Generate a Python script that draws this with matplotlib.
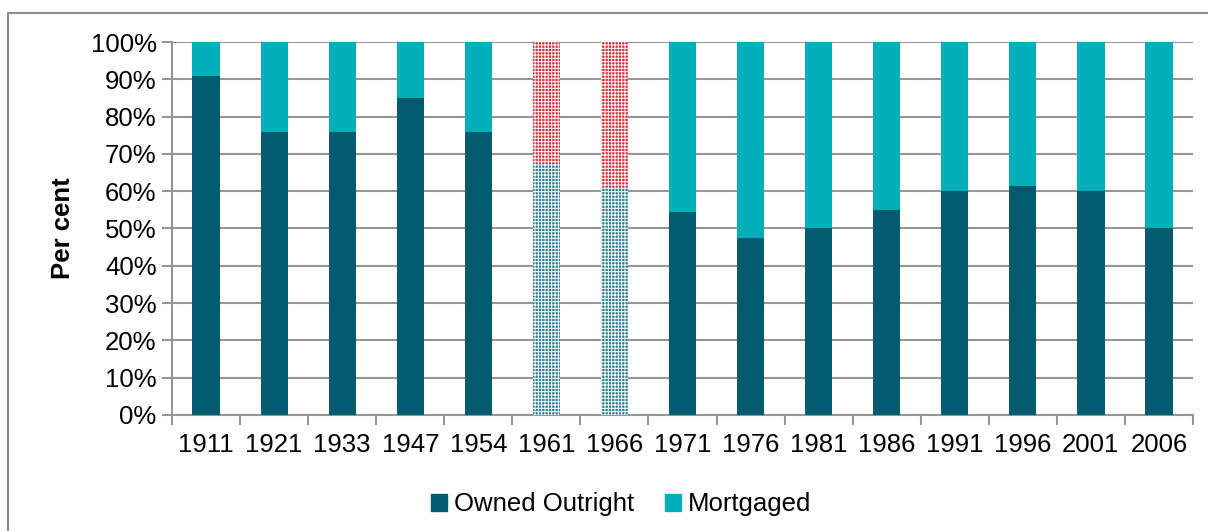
import matplotlib.pyplot as plt
from matplotlib.patches import Rectangle, Patch

plt.rcParams['font.family'] = ['Liberation Sans', 'DejaVu Sans']
plt.rcParams['hatch.linewidth'] = 0.7

years = ['1911', '1921', '1933', '1947', '1954', '1961', '1966', '1971',
         '1976', '1981', '1986', '1991', '1996', '2001', '2006']
owned = [91, 76, 76, 85, 76, 67.5, 61, 54.5, 47.5, 50, 55, 60, 61.5, 60, 50]
mortgaged = [100 - v for v in owned]
estimated = ['1961', '1966']   # shown hatched

dark = '#005b6f'
light = '#00b0b9'
grid_c = '#969696'
fs = 18.5

fig = plt.figure(figsize=(12.08, 5.31), dpi=100)
ax = fig.add_axes([0.1424, 0.2185, 0.8452, 0.7024])

x = list(range(len(years)))
for i, yr in enumerate(years):
    if yr in estimated:
        ax.bar(i, owned[i], width=0.4, color='#2f7f92', edgecolor='white',
               linewidth=0, hatch='+++++', zorder=3)
        ax.bar(i, mortgaged[i], bottom=owned[i], width=0.4, color='#dc2f3a',
               edgecolor='white', linewidth=0, hatch='+++++', zorder=3)
    else:
        ax.bar(i, owned[i], width=0.4, color=dark, zorder=3)
        ax.bar(i, mortgaged[i], bottom=owned[i], width=0.4, color=light, zorder=3)

ax.set_xlim(-0.5, len(years) - 0.5)
ax.set_ylim(0, 100)
ax.set_yticks(range(0, 101, 10))
ax.set_yticklabels([f'{v}%' for v in range(0, 101, 10)], fontsize=fs)
ax.set_xticks(x)
ax.set_xticklabels(years, fontsize=fs)
ax.set_xticks([i + 0.5 for i in range(-1, len(years))], minor=True)
ax.tick_params(axis='x', which='major', length=0, pad=13)
ax.tick_params(axis='x', which='minor', length=7, width=1.5, color=grid_c)
ax.tick_params(axis='y', length=7, width=1.5, color=grid_c, pad=4)
ax.yaxis.grid(True, color=grid_c, linewidth=1.5, zorder=0)
ax.set_axisbelow(True)
for s in ['top', 'right']:
    ax.spines[s].set_visible(False)
for s in ['left', 'bottom']:
    ax.spines[s].set_color(grid_c)
    ax.spines[s].set_linewidth(1.5)

ax.set_ylabel('Per cent', fontsize=fs, fontweight='bold', labelpad=11)

handles = [Patch(color=dark, label='Owned Outright'),
           Patch(color=light, label='Mortgaged')]
fig.legend(handles=handles, loc='center', bbox_to_anchor=(0.514, 0.05), ncol=2,
           frameon=False, fontsize=fs, handlelength=0.65, handleheight=0.65,
           handletextpad=0.25, columnspacing=1.2)

fig.patches.append(Rectangle((0.0066, -0.1), 1.2, 1.0755, transform=fig.transFigure,
                             fill=False, edgecolor='#8c8c8c', linewidth=1.5))

fig.savefig('out.png', dpi=100)
